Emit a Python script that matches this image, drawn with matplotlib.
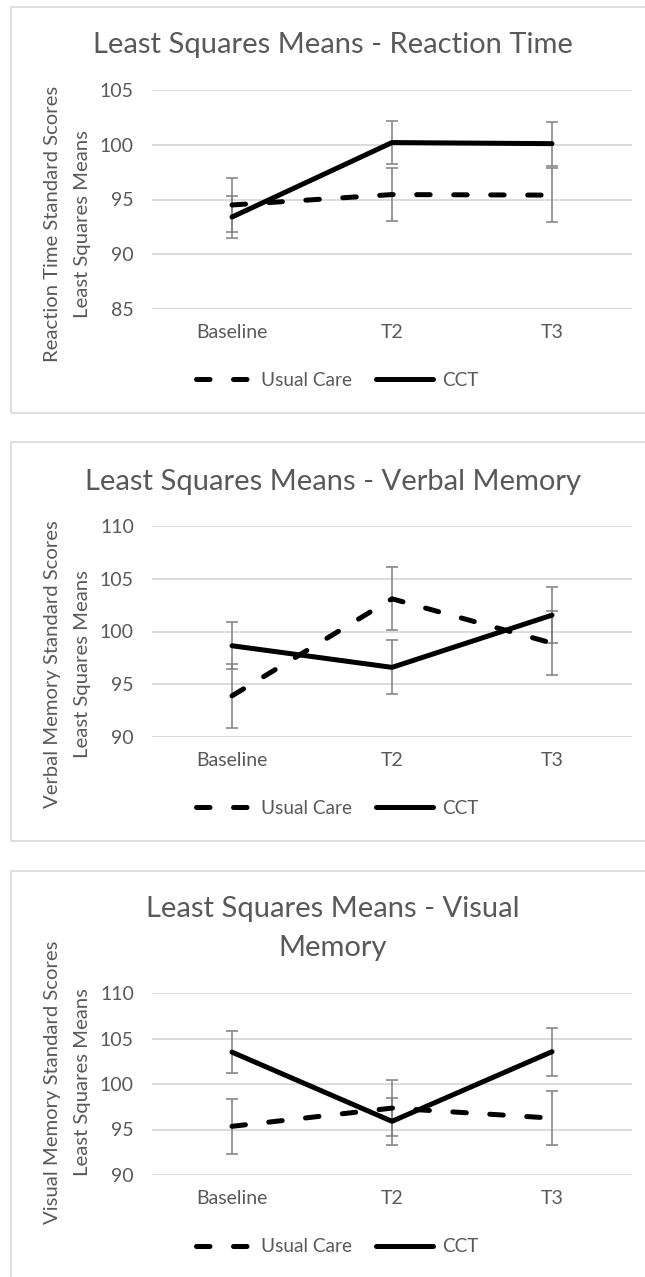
import matplotlib
matplotlib.use("Agg")
import matplotlib.pyplot as plt
from matplotlib.patches import Rectangle
from matplotlib.lines import Line2D

# ---------------- data ----------------
categories = ["Baseline", "T2", "T3"]
series_names = ["Usual Care", "CCT"]

rt_usual = [94.5, 95.45, 95.4]
rt_usual_err = [2.45, 2.45, 2.45]
rt_cct = [93.4, 100.2, 100.1]
rt_cct_err = [1.9, 2.0, 2.0]

vm_usual = [93.9, 103.1, 98.9]
vm_usual_err = [3.0, 3.0, 3.0]
vm_cct = [98.65, 96.6, 101.55]
vm_cct_err = [2.25, 2.55, 2.65]

vis_usual = [95.35, 97.35, 96.25]
vis_usual_err = [3.0, 3.05, 3.0]
vis_cct = [103.5, 95.9, 103.55]
vis_cct_err = [2.3, 2.55, 2.65]

titles = ["Least Squares Means - Reaction Time",
          "Least Squares Means - Verbal Memory",
          "Least Squares Means - Visual\nMemory"]
ylabels = ["Reaction Time Standard Scores\nLeast Squares Means",
           "Verbal Memory Standard Scores\nLeast Squares Means",
           "Visual Memory Standard Scores\nLeast Squares Means"]
yticks_list = [[85, 90, 95, 100, 105],
               [90, 95, 100, 105, 110],
               [90, 95, 100, 105, 110]]

# ---------------- style / layout ----------------
W, H = 645, 1277
plt.rcParams["font.family"] = ["Lato", "DejaVu Sans"]
TXT = "#595959"
GRID = "#d9d9d9"
ERR = "#7f7f7f"
LW = 3.6
DASH = (2.7, 4.7)

fig = plt.figure(figsize=(W / 100, H / 100), dpi=100)
fig.patch.set_facecolor("white")

def fx(px):
    return px / W

def fy(py):
    return 1 - py / H

panels = [
    dict(box=(7, 413), ax=(90, 309), title=45, ylab=224, leg=380,
         usual=rt_usual, usual_err=rt_usual_err, cct=rt_cct, cct_err=rt_cct_err),
    dict(box=(442, 841), ax=(526, 737), title=482, ylab=664, leg=808,
         usual=vm_usual, usual_err=vm_usual_err, cct=vm_cct, cct_err=vm_cct_err),
    dict(box=(871, 1290), ax=(993, 1175), title=928.5, ylab=1082, leg=1247,
         usual=vis_usual, usual_err=vis_usual_err, cct=vis_cct, cct_err=vis_cct_err),
]

AX_L, AX_R = 152, 632
x = list(range(len(categories)))

for i, p in enumerate(panels):
    bt, bb = p["box"]
    fig.patches.append(Rectangle((fx(11), fy(bb)), fx(660 - 11), (bb - bt) / H,
                                 transform=fig.transFigure, fill=False,
                                 edgecolor=GRID, lw=1.2, zorder=0))
    at, ab = p["ax"]
    ax = fig.add_axes([fx(AX_L), fy(ab), fx(AX_R - AX_L), (ab - at) / H])
    yt = yticks_list[i]
    ax.set_ylim(yt[0], yt[-1])
    ax.set_xlim(-0.5, len(categories) - 0.5)
    ax.set_yticks(yt)
    ax.set_xticks(x)
    ax.set_xticklabels(categories)
    for s in ax.spines.values():
        s.set_visible(False)
    ax.grid(axis="y", color=GRID, lw=1.3)
    ax.set_axisbelow(True)
    ax.tick_params(axis="both", length=0, labelsize=14, colors=TXT)
    ax.tick_params(axis="y", pad=13)
    ax.tick_params(axis="x", pad=11)

    ax.errorbar(x, p["usual"], yerr=p["usual_err"], fmt="none", ecolor=ERR,
                elinewidth=1.1, capsize=4, capthick=1.1, zorder=2)
    ax.errorbar(x, p["cct"], yerr=p["cct_err"], fmt="none", ecolor=ERR,
                elinewidth=1.1, capsize=4, capthick=1.1, zorder=2)
    ax.plot(x, p["usual"], color="black", lw=LW, dashes=DASH,
            dash_capstyle="round", solid_capstyle="round", zorder=3)
    ax.plot(x, p["cct"], color="black", lw=LW, solid_capstyle="round",
            solid_joinstyle="round", zorder=3)

    fig.text(fx(333), fy(p["title"]), titles[i], ha="center", va="center",
             fontsize=21, color=TXT, linespacing=1.62)
    fig.text(fx(67.5), fy(p["ylab"]), ylabels[i], ha="center", va="center",
             rotation=90, fontsize=14.6, color=TXT, multialignment="center",
             linespacing=1.9)

    handles = [Line2D([], [], color="black", lw=LW, dashes=DASH,
                      dash_capstyle="round"),
               Line2D([], [], color="black", lw=LW, solid_capstyle="round")]
    leg = fig.legend(handles, series_names, loc="center",
                     bbox_to_anchor=(fx(337), fy(p["leg"])), ncol=2,
                     frameon=False, fontsize=13.7, handlelength=3.0,
                     handletextpad=0.45, columnspacing=1.25, borderpad=0)
    for t in leg.get_texts():
        t.set_color(TXT)

fig.savefig("out.png", dpi=100, facecolor="white")
